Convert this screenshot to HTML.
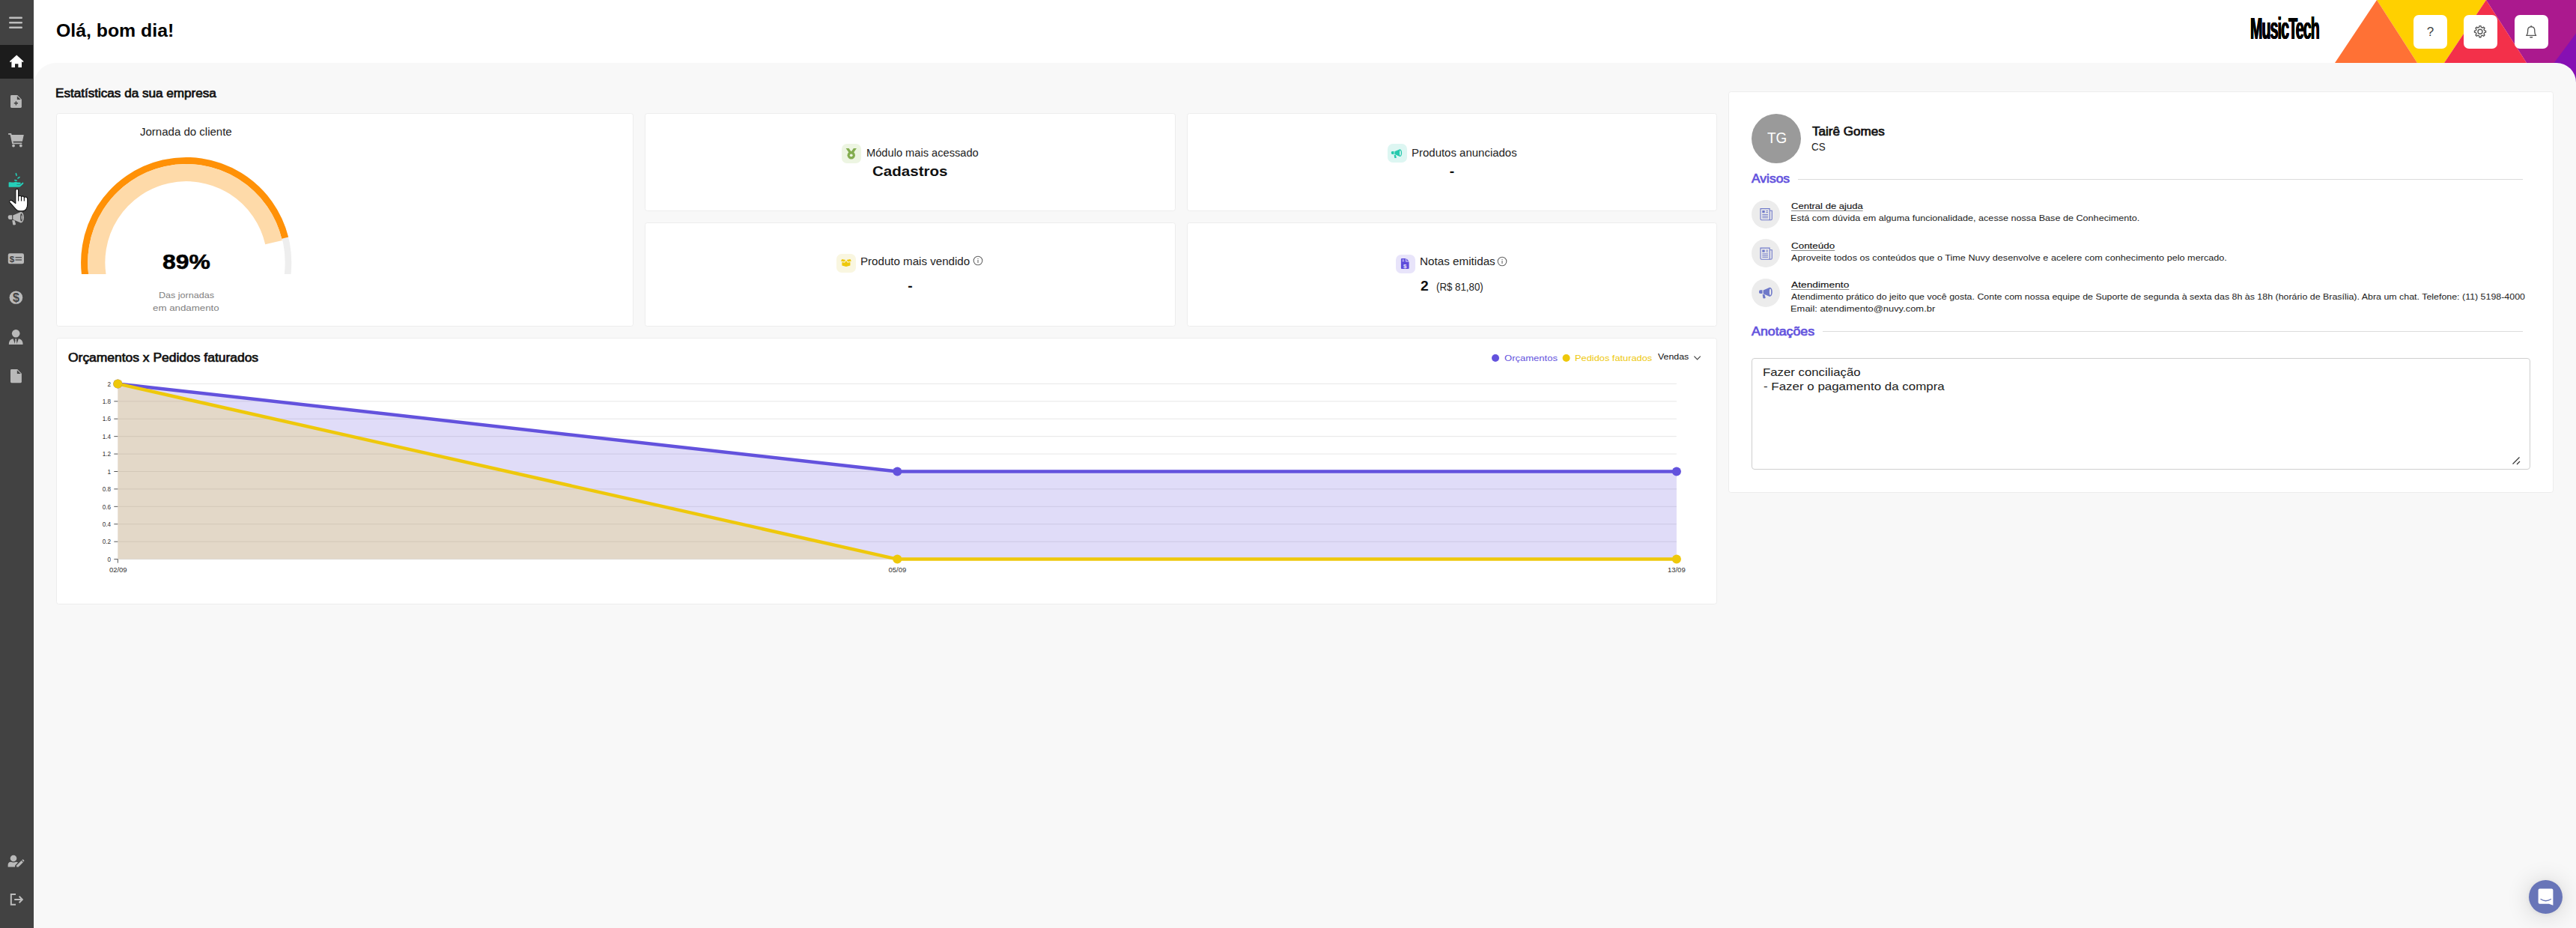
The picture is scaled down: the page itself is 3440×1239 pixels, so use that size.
<!DOCTYPE html>
<html lang="pt-BR">
<head>
<meta charset="utf-8">
<title>MusicTech - Início</title>
<style>
*{box-sizing:border-box;margin:0;padding:0}
html,body{width:3440px;height:1239px;overflow:hidden;background:#fff}
body{position:relative;font-family:"Liberation Sans",sans-serif;color:#111;-webkit-font-smoothing:antialiased}
.t{position:absolute;white-space:pre;display:block;transform-origin:0 50%}
.abs{position:absolute}
h1,h2,h3,p{font-weight:400;font-size:inherit}
/* sidebar */
.sidebar{position:absolute;left:0;top:0;width:45px;height:1239px;background:#424242;z-index:5}
.sidebar .active{position:absolute;left:0;top:60px;width:44px;height:45px;background:#1c1c1c}
.sidebar svg{position:absolute;left:0;top:0}
/* header */
.header{position:absolute;left:45px;top:0;width:3395px;height:84px;background:#fff}
.hdr-art{position:absolute;left:3110px;top:0;z-index:1}
.hbtn{position:absolute;top:20px;width:44.5px;height:44.5px;background:#fff;border-radius:7px;z-index:3}
/* content */
.content{position:absolute;left:45px;top:84px;width:3395px;height:1155px;background:#f8f8f8;border-radius:30px 26px 0 0;z-index:2}
.card{position:absolute;background:#fff;border:1px solid #ededed;border-radius:3.5px}
.shift{position:absolute;left:0;top:0}
.ico{position:absolute;width:25.5px;height:25.5px;border-radius:7px}
.ico svg{position:absolute;left:0;top:0}
.hr{position:absolute;height:1px;background:#dcdcdc}
.circ{position:absolute;width:38px;height:38px;border-radius:50%;background:#ececec}
.notes{position:absolute;background:#fff;border:1px solid #cfcfcf;border-radius:4px}
.chat{position:absolute;z-index:8;left:3376.500px;top:1175.200px;width:45px;height:45px;border-radius:50%;background:#6875b8;box-shadow:0 1px 6px rgba(0,0,0,.06),0 2px 32px rgba(0,0,0,.16)}
</style>
</head>
<body>

<!-- ============ HEADER ============ -->
<header class="header">
  <h1 class="t" style="left:29.56px;top:30.00px;font-size:23px;line-height:23px;font-weight:700;transform:scaleX(1.0791);color:#000;">Olá, bom dia!</h1>
</header>
<div class="abs" style="left:3004.8px;top:17px;width:92px;height:44px;z-index:3;overflow:visible">
  <span class="t" style="left:0;top:0;font-size:40.3px;line-height:44px;font-weight:700;color:#000;letter-spacing:-1.8px;transform:scaleX(.486);transform-origin:0 0;text-shadow:.6px 0 #000,-.6px 0 #000,.3px 0 #000,-.3px 0 #000">MusicTech</span>
</div>
<svg class="hdr-art" width="330" height="124" viewBox="3110 0 330 124">
  <polygon points="3320,0 3440,0 3440,124 3374,124 3374,84" fill="#ab198e"/>
  <polygon points="3440,44.6 3440,124 3381,124" fill="#8610b3"/>
  <polygon points="3174,0 3320,0 3264,84 3228,84" fill="#ffd000"/>
  <polygon points="3320,0 3264,84 3374,84" fill="#f3304a"/>
  <polygon points="3174,0 3118,84 3228,84" fill="#ff7135"/>
</svg>
<div class="hbtn" style="left:3223.3px"><span class="t" style="left:17.45px;top:14.00px;font-size:17px;line-height:17px;color:#444;">?</span></div>
<div class="hbtn" style="left:3290.2px">
  <svg class="abs" style="left:0;top:0" width="44.5" height="44.5" viewBox="3290.2 20 44.5 44.5" fill="none" stroke="#555" stroke-width="1.35" stroke-linejoin="round" stroke-linecap="round">
    <circle cx="3312.2" cy="42.2" r="3"/>
    <path d="M3310.82 36.46 L3311.19 34.67 L3313.21 34.67 L3313.58 36.46 L3315.28 37.17 L3316.81 36.16 L3318.24 37.59 L3317.23 39.12 L3317.94 40.82 L3319.73 41.19 L3319.73 43.21 L3317.94 43.58 L3317.23 45.28 L3318.24 46.81 L3316.81 48.24 L3315.28 47.23 L3313.58 47.94 L3313.21 49.73 L3311.19 49.73 L3310.82 47.94 L3309.12 47.23 L3307.59 48.24 L3306.16 46.81 L3307.17 45.28 L3306.46 43.58 L3304.67 43.21 L3304.67 41.19 L3306.46 40.82 L3307.17 39.12 L3306.16 37.59 L3307.59 36.16 L3309.12 37.17 Z"/>
  </svg>
</div>
<div class="hbtn" style="left:3358.2px">
  <svg class="abs" style="left:0;top:0" width="44.5" height="44.5" viewBox="3358.2 20 44.5 44.5" fill="none" stroke="#555" stroke-width="1.35" stroke-linejoin="round" stroke-linecap="round">
    <path d="M3374 47.4 H3386.8 Q3385 45.6 3385 42 V40.4 Q3385 36 3380.4 35.6 Q3375.800 36 3375.8 40.4 V42 Q3375.8 45.6 3374 47.4 Z"/>
    <path d="M3379 49.7 H3381.800"/>
    <path d="M3380.4 35.6 V34.6"/>
  </svg>
</div>

<!-- ============ SIDEBAR ============ -->
<aside class="sidebar">
  <div class="active"></div>
  <svg width="45" height="1239" viewBox="0 0 45 1239">
    <g fill="#bdbdbd">
      <!-- bars -->
      <rect x="12" y="22.5" width="18" height="2.6" rx="1.3"/>
      <rect x="12" y="28.9" width="18" height="2.6" rx="1.3"/>
      <rect x="12" y="35.5" width="18" height="2.6" rx="1.3"/>
    </g>
    <!-- home -->
    <g fill="#fff">
      <path d="M22.2 73.6 L31.6 81.900 L30.4 83.300 L29 82.100 V90 H24.4 V85.2 H20 V90 H15.4 V82.100 L14 83.300 L12.8 81.900 Z"/>
    </g>
    <g fill="#b9b9b9">
      <!-- file plus -->
      <path d="M15.4 127 H23.2 L28.9 132.7 V142.6 Q28.9 144 27.5 144 H15.4 Q14 144 14 142.6 V128.4 Q14 127 15.4 127 Z"/>
      <path d="M22.8 128.2 V133.100 H27.7 Z" fill="#424242"/>
      <path d="M20.700 135.200 H22.1 V137.100 H24 V138.500 H22.1 V140.400 H20.7 V138.500 H18.800 V137.100 H20.7 Z" fill="#424242"/>
      <!-- cart -->
      <path d="M11.1 178 H15.100 L15.600 180.100 H31.8 L29.900 188.700 H17.500 L17.900 190.500 H29.300 V192.300 H16.3 L13.600 179.8 H11.1 Z"/>
      <circle cx="18" cy="194.600" r="1.9"/><circle cx="27.800" cy="194.600" r="1.9"/>
      <!-- bullhorn -->
      <g transform="translate(3.55 272.20) scale(1.479)">
        <path d="M6.300 10.100 H8.500 V14 H6.300 Q4.900 14 4.900 12.600 V11.500 Q4.900 10.100 6.300 10.100 Z"/>
        <path d="M9.300 10.300 L16.300 7.300 Q19.100 7.600 19.100 12.200 Q19.100 16.800 16.300 17.100 L9.300 14.100 Z"/>
        <ellipse cx="16.900" cy="12.200" rx="1" ry="3.600" fill="#424242"/>
        <ellipse cx="17.100" cy="12.200" rx=".45" ry="2.100"/>
        <path d="M8.600 14.700 L10.800 14.900 L11.800 18.200 Q11.900 18.900 11.200 19 L10 19.100 Q9.400 19.100 9.200 18.500 Z"/>
      </g>
      <!-- money check -->
      <rect x="10.800" y="338.300" width="21.200" height="14" rx="2.300"/>
      <!-- dollar circle -->
      <circle cx="21.400" cy="397.300" r="8.800"/>
      <!-- user tie -->
      <circle cx="21.200" cy="445.200" r="5.300"/>
      <path d="M11.800 460 Q11.800 453 17.600 452.300 L20.200 459.900 Z"/>
      <path d="M30.600 460 Q30.600 453 24.800 452.300 L22.200 459.900 Z"/>
      <path d="M20 452.500 H22.400 L21.900 454.200 L22.900 459.900 H19.500 L20.500 454.200 Z"/>
      <!-- file -->
      <path d="M15.400 493 H23.2 L28.900 498.700 V509.800 Q28.900 511.200 27.500 511.200 H15.400 Q14 511.200 14 509.800 V494.400 Q14 493 15.400 493 Z"/>
      <path d="M22.8 494.2 V499.100 H27.7 Z" fill="#424242"/>
      <!-- user edit -->
      <circle cx="18" cy="1146" r="4.300"/>
      <path d="M10.600 1157.500 V1155 Q10.600 1151 14.500 1150.800 Q18 1152.300 21.500 1150.800 Q23 1150.900 24 1151.600 L20.300 1155.300 L20 1157.500 Z"/>
      <path d="M21.900 1157.600 L22.300 1155.300 L28.600 1149 L30.900 1151.300 L24.600 1157.600 Z"/>
      <path d="M29.300 1148.300 L30 1147.600 Q30.500 1147.200 31 1147.600 L32.200 1148.800 Q32.600 1149.300 32.200 1149.800 L31.500 1150.500 Z"/>
    </g>
    <!-- logout -->
    <g fill="none" stroke="#bdbdbd" stroke-width="2" stroke-linecap="butt" stroke-linejoin="miter">
      <path d="M21 1194 H14.800 V1207.800 H21"/>
      <path d="M19.200 1201 H29.500"/>
      <path d="M25.600 1196.800 L29.800 1201 L25.600 1205.200"/>
    </g>
    <!-- money check details -->
    <g stroke="#424242" stroke-width="1.200">
      <path d="M20.500 343.700 H29"/><path d="M20.500 347 H29"/>
    </g>
    <!-- hand holding water (teal, hovered) -->
    <g fill="#24cfb9">
      <rect x="11.600" y="243.300" width="3.400" height="6.400" rx=".5"/>
      <path d="M14.800 243.500 H18.600 Q21 242.200 23.400 243.500 H26.300 Q27.700 243.500 27.700 244.700 Q27.700 245.900 26.300 245.900 H22.300 V246.500 H27 L29.700 243.900 Q30.600 243.200 31.200 243.900 Q31.700 244.700 31 245.500 L26.900 249.300 Q26.500 249.700 25.800 249.700 H14.800 Z"/>
      <ellipse cx="21.700" cy="233" rx=".9" ry="2.200" transform="rotate(-15 21.700 233)"/>
      <ellipse cx="25" cy="237.300" rx=".9" ry="2.200" transform="rotate(55 25 237.300)"/>
      <ellipse cx="21" cy="240.800" rx="2.100" ry=".9" transform="rotate(10 21 240.800)"/>
    </g>
    <text x="16" y="349.600" font-size="11.500" font-weight="700" fill="#424242" text-anchor="middle" font-family="Liberation Sans, sans-serif">$</text>
    <text x="21.400" y="402.900" font-size="16" font-weight="700" fill="#424242" text-anchor="middle" font-family="Liberation Sans, sans-serif">$</text>
  </svg>
</aside>
<!-- mouse cursor -->
<svg class="abs" style="left:10px;top:250px;z-index:9" width="30" height="34" viewBox="10 250 30 34">
  <path d="M20.8 254.6 Q20.8 252.3 22.7 252.3 Q24.6 252.3 24.6 254.6 V262.6 Q24.9 261.2 26.600 261.2 Q28.4 261.3 28.5 263 Q28.9 261.8 30.5 261.9 Q32.2 262 32.3 263.8 Q32.8 262.9 34.3 263 Q36.7 263.2 36.7 265.8 V272.5 Q36.7 276.5 35 279 Q33.8 281.8 30 281.800 H26.5 Q23.3 281.8 21.2 279.3 L13.2 270.3 Q12 268.8 13.2 267.8 Q14.6 266.9 16.2 268 L20.800 271.6 Z" fill="#fff" stroke="#111" stroke-width="1.100" stroke-linejoin="round"/>
  <path d="M24.600 262.600 V268.500 M28.500 263 V268.500 M32.300 263.800 V268.500" stroke="#111" stroke-width="1.100" fill="none"/>
</svg>

<!-- ============ CONTENT ============ -->
<main class="content">
  <h2 class="t" style="left:29.16px;top:33.00px;font-size:16px;line-height:16px;transform:scaleX(1.0682);color:#111;-webkit-text-stroke:.7px #111;">Estatísticas da sua empresa</h2>

  <!-- card 1: jornada -->
  <section class="card" style="left:30px;top:67px;width:771px;height:285px">
    <span class="t" style="left:111.37px;top:17.00px;font-size:14px;line-height:14px;transform:scaleX(1.0725);color:#222;">Jornada do cliente</span>
    <svg class="abs" style="left:24px;top:48px;overflow:hidden" width="300" height="165.900" viewBox="100 200 300 165.900">
      <g fill="none">
        <circle cx="248.700" cy="350.600" r="136.300" stroke="#eeeeee" stroke-width="8.600"/>
        <path d="M115.67 378.88 A136.00 136.00 0 0 1 380.66 317.70" stroke="#ff9107" stroke-width="9.200"/>
        <path d="M131.42 375.53 A119.90 119.90 0 0 1 365.53 323.63" stroke="#fedaa9" stroke-width="23.200"/>
      </g>
    </svg>
    <span class="t" style="left:140.70px;top:184.00px;font-size:28px;line-height:28px;font-weight:700;transform:scaleX(1.1376);color:#000;-webkit-text-stroke:.5px #000;">89%</span>
    <span class="t" style="left:135.90px;top:237.00px;font-size:11px;line-height:11px;transform:scaleX(1.1402);color:#808080;">Das jornadas</span>
    <span class="t" style="left:128.35px;top:254.00px;font-size:11px;line-height:11px;transform:scaleX(1.2076);color:#808080;">em andamento</span>
  </section>

  <!-- card 2: modulo -->
  <section class="card" style="left:816px;top:67px;width:709px;height:131px">
    <div class="ico" style="left:262px;top:40px;background:#edf5e2">
      <svg width="25.5" height="25.5" viewBox="0 0 25.5 25.5"><g fill="#84ad50">
        <path d="M5.6 5.900 H9.6 L12.75 10.600 L15.9 5.900 H19.9 L15.600 12.200 H9.900 Z"/>
        <circle cx="12.75" cy="15.300" r="5.200"/><circle cx="12.75" cy="15.300" r="1.900" fill="#edf5e2"/>
      </g></svg>
    </div>
    <span class="t" style="left:295.22px;top:45.00px;font-size:14px;line-height:14px;transform:scaleX(1.0459);color:#222;">Módulo mais acessado</span>
    <span class="t" style="left:303.40px;top:67.00px;font-size:19.2px;line-height:19.2px;font-weight:700;transform:scaleX(1.0705);color:#111;">Cadastros</span>
  </section>

  <!-- card 3: produtos anunciados -->
  <section class="card" style="left:1540px;top:67px;width:708px;height:131px">
    <div class="ico" style="left:267px;top:39.800px;background:#ddf6f2">
      <svg width="25.5" height="25.5" viewBox="0 0 25.5 25.5"><g fill="#27c9ad">
        <path d="M6.300 10.100 H8.500 V14 H6.300 Q4.900 14 4.900 12.600 V11.500 Q4.900 10.100 6.300 10.100 Z"/>
        <path d="M9.400 10.300 L16.300 7.300 Q19.100 7.600 19.100 12.200 Q19.100 16.800 16.300 17.100 L9.400 14.100 Z"/>
        <ellipse cx="16.900" cy="12.200" rx=".9" ry="3.500" fill="#ddf6f2"/>
        <path d="M8.600 14.700 L10.800 14.900 L11.800 18.200 Q11.900 18.900 11.200 19 L10 19.100 Q9.400 19.100 9.200 18.500 Z"/>
      </g></svg>
    </div>
    <span class="t" style="left:299.10px;top:45.00px;font-size:14px;line-height:14px;transform:scaleX(1.0695);color:#222;">Produtos anunciados</span>
    <span class="t" style="left:349.86px;top:67.00px;font-size:19.2px;line-height:19.2px;font-weight:700;color:#111;">-</span>
  </section>

  <!-- card 4: produto mais vendido -->
  <section class="card" style="left:816px;top:213px;width:709px;height:139px">
    <div class="ico" style="left:255px;top:40.800px;background:#f9f6e0">
      <svg width="25.5" height="25.5" viewBox="0 0 25.5 25.5"><g fill="#eec80b">
        <path d="M6 9.700 L7.300 7.100 L12.100 7.900 L10.600 10.600 Z"/>
        <path d="M19.800 9.700 L18.500 7.100 L13.700 7.900 L15.200 10.600 Z"/>
        <path d="M7.400 10.900 L10.900 11.700 L12.900 8.900 L14.900 11.700 L18.400 10.900 V15.400 L12.900 16.900 L7.400 15.400 Z"/>
      </g></svg>
    </div>
    <span class="t" style="left:287.49px;top:44.00px;font-size:14px;line-height:14px;transform:scaleX(1.0789);color:#222;">Produto mais vendido</span>
    <svg class="abs" style="left:437.200px;top:43.400px" width="14" height="14" viewBox="0 0 14 14" fill="none" stroke="#666" stroke-width="1.100"><circle cx="7" cy="7" r="5.800"/><path d="M7 6.100 V10" stroke-width="1.100"/><circle cx="7" cy="4.300" r=".4" fill="#666" stroke-width=".5"/></svg>
    <span class="t" style="left:350.26px;top:74.00px;font-size:19.2px;line-height:19.2px;font-weight:700;color:#111;">-</span>
  </section>

  <!-- card 5: notas emitidas -->
  <section class="card" style="left:1540px;top:213px;width:708px;height:139px">
    <div class="ico" style="left:278px;top:41.800px;background:#e8e4fa">
      <svg width="25.5" height="25.5" viewBox="0 0 25.5 25.5"><g fill="#5f4ddb">
        <path d="M8 5.100 H13.200 V9.400 H17.600 V18 Q17.600 19.100 16.500 19.100 H8 Q6.900 19.100 6.900 18 V6.200 Q6.900 5.100 8 5.100 Z"/>
        <path d="M14.100 5.300 L17.400 8.600 H14.100 Z"/>
      </g>
      <text x="12.200" y="17.600" font-size="8" font-weight="700" fill="#e8e4fa" text-anchor="middle" font-family="Liberation Sans, sans-serif">$</text>
      <path d="M8.500 7 H11.200 M8.500 8.700 H11.200" stroke="#e8e4fa" stroke-width=".8"/>
      </svg>
    </div>
    <span class="t" style="left:309.78px;top:44.00px;font-size:14px;line-height:14px;transform:scaleX(1.0879);color:#222;">Notas emitidas</span>
    <svg class="abs" style="left:413.200px;top:44.200px" width="14" height="14" viewBox="0 0 14 14" fill="none" stroke="#666" stroke-width="1.100"><circle cx="7" cy="7" r="5.800"/><path d="M7 6.100 V10" stroke-width="1.100"/><circle cx="7" cy="4.300" r=".4" fill="#666" stroke-width=".5"/></svg>
    <span class="t" style="left:310.88px;top:74.00px;font-size:19.2px;line-height:19.2px;font-weight:700;color:#111;">2</span>
    <span class="t" style="left:332.09px;top:78.00px;font-size:14px;line-height:14px;transform:scaleX(0.9485);color:#222;">(R$ 81,80)</span>
  </section>

  <!-- chart card -->
  <section class="card" style="left:30px;top:367px;width:2218px;height:356px">
  <div class="shift" style="top:1px">
    <span class="t" style="left:14.58px;top:17.00px;font-size:16px;line-height:16px;transform:scaleX(1.0904);color:#111;-webkit-text-stroke:.7px #111;">Orçamentos x Pedidos faturados</span>
    <svg class="abs" style="left:-1px;top:-1px" width="2218" height="354" viewBox="75 452 2218 354">
      <g stroke="#e7e7e7" stroke-width="1">
      <path d="M157.3 512.40 H2238.9"/>
      <path d="M157.3 535.82 H2238.9"/>
      <path d="M157.3 559.24 H2238.9"/>
      <path d="M157.3 582.66 H2238.9"/>
      <path d="M157.3 606.08 H2238.9"/>
      <path d="M157.3 629.50 H2238.9"/>
      <path d="M157.3 652.92 H2238.9"/>
      <path d="M157.3 676.34 H2238.9"/>
      <path d="M157.3 699.76 H2238.9"/>
      <path d="M157.3 723.18 H2238.9"/>
      <path d="M157.3 746.60 H2238.9"/>
      </g>
      <g stroke="#555" stroke-width="1">
      <path d="M152.3 512.40 H157.3"/>
      <path d="M152.3 535.82 H157.3"/>
      <path d="M152.3 559.24 H157.3"/>
      <path d="M152.3 582.66 H157.3"/>
      <path d="M152.3 606.08 H157.3"/>
      <path d="M152.3 629.50 H157.3"/>
      <path d="M152.3 652.92 H157.3"/>
      <path d="M152.3 676.34 H157.3"/>
      <path d="M152.3 699.76 H157.3"/>
      <path d="M152.3 723.18 H157.3"/>
      <path d="M152.3 746.60 H157.3"/>
      <path d="M157.3 746.60 V751.60"/>
      </g>
      <polygon points="157.3,512.40 1198.3,629.50 2238.9,629.50 2238.9,746.60 157.3,746.60" fill="#6352dd" fill-opacity=".2"/>
      <polygon points="157.3,512.40 1198.3,746.60 2238.9,746.60 2238.9,746.60 157.3,746.60" fill="#eec80b" fill-opacity=".2"/>
      <polyline points="157.3,512.40 1198.3,629.50 2238.9,629.50" fill="none" stroke="#6352dd" stroke-width="4.5" stroke-linejoin="round"/>
      <polyline points="157.3,512.40 1198.3,746.60 2238.9,746.60" fill="none" stroke="#eec80b" stroke-width="4.5" stroke-linejoin="round"/>
      <circle cx="157.3" cy="512.40" r="6" fill="#6352dd"/>
      <circle cx="1198.3" cy="629.50" r="6" fill="#6352dd"/>
      <circle cx="2238.9" cy="629.50" r="6" fill="#6352dd"/>
      <circle cx="157.3" cy="512.40" r="6" fill="#eec80b"/>
      <circle cx="1198.3" cy="746.60" r="6" fill="#eec80b"/>
      <circle cx="2238.9" cy="746.60" r="6" fill="#eec80b"/>
      <circle cx="1997" cy="478" r="5" fill="#6352dd"/>
      <circle cx="2091.6" cy="478" r="5" fill="#eec80b"/>
      <path d="M2262.4 475.6 L2266.6 479.8 L2270.8 475.600" fill="none" stroke="#444" stroke-width="1.200"/>
    </svg>
    <span class="t" style="left:1932.72px;top:20.00px;font-size:11.2px;line-height:11.2px;transform:scaleX(1.1646);color:#6352dd;">Orçamentos</span>
    <span class="t" style="left:2027.30px;top:20.00px;font-size:11.2px;line-height:11.2px;transform:scaleX(1.1452);color:#eec80b;">Pedidos faturados</span>
    <span class="t" style="left:2138.00px;top:17.00px;font-size:11.7px;line-height:11.7px;transform:scaleX(1.0566);color:#111;">Vendas</span>
    <span class="t" style="left:32.00px;top:55.00px;font-size:9.5px;line-height:9.5px;color:#333;text-align:right;width:40px;transform:scaleX(.86);transform-origin:100% 50%;">2</span>
    <span class="t" style="left:32.00px;top:78.00px;font-size:9.5px;line-height:9.5px;color:#333;text-align:right;width:40px;transform:scaleX(.86);transform-origin:100% 50%;">1.8</span>
    <span class="t" style="left:32.00px;top:101.00px;font-size:9.5px;line-height:9.5px;color:#333;text-align:right;width:40px;transform:scaleX(.86);transform-origin:100% 50%;">1.6</span>
    <span class="t" style="left:32.00px;top:125.00px;font-size:9.5px;line-height:9.5px;color:#333;text-align:right;width:40px;transform:scaleX(.86);transform-origin:100% 50%;">1.4</span>
    <span class="t" style="left:32.00px;top:148.00px;font-size:9.5px;line-height:9.5px;color:#333;text-align:right;width:40px;transform:scaleX(.86);transform-origin:100% 50%;">1.2</span>
    <span class="t" style="left:32.00px;top:172.00px;font-size:9.5px;line-height:9.5px;color:#333;text-align:right;width:40px;transform:scaleX(.86);transform-origin:100% 50%;">1</span>
    <span class="t" style="left:32.00px;top:195.00px;font-size:9.5px;line-height:9.5px;color:#333;text-align:right;width:40px;transform:scaleX(.86);transform-origin:100% 50%;">0.8</span>
    <span class="t" style="left:32.00px;top:219.00px;font-size:9.5px;line-height:9.5px;color:#333;text-align:right;width:40px;transform:scaleX(.86);transform-origin:100% 50%;">0.6</span>
    <span class="t" style="left:32.00px;top:242.00px;font-size:9.5px;line-height:9.5px;color:#333;text-align:right;width:40px;transform:scaleX(.86);transform-origin:100% 50%;">0.4</span>
    <span class="t" style="left:32.00px;top:265.00px;font-size:9.5px;line-height:9.5px;color:#333;text-align:right;width:40px;transform:scaleX(.86);transform-origin:100% 50%;">0.2</span>
    <span class="t" style="left:32.00px;top:289.00px;font-size:9.5px;line-height:9.5px;color:#333;text-align:right;width:40px;transform:scaleX(.86);transform-origin:100% 50%;">0</span>
    <span class="t" style="left:69.89px;top:303.00px;font-size:9.5px;line-height:9.5px;color:#333;">02/09</span>
    <span class="t" style="left:1110.49px;top:303.00px;font-size:9.5px;line-height:9.5px;color:#333;">05/09</span>
    <span class="t" style="left:2150.90px;top:303.00px;font-size:9.5px;line-height:9.5px;color:#333;">13/09</span>
  </div>
  </section>

  <!-- right panel -->
  <section class="card" style="left:2263px;top:38px;width:1102px;height:536px">
  <div class="shift" style="left:-1px">
    <div class="abs" style="left:31px;top:29.200px;width:66px;height:66px;border-radius:50%;background:#9a9a9a"></div>
    <span class="t" style="left:51.65px;top:51.00px;font-size:20.5px;line-height:20.5px;transform:scaleX(0.9239);color:#fff;">TG</span>
    <span class="t" style="left:111.73px;top:45.00px;font-size:16px;line-height:16px;transform:scaleX(1.0667);color:#111;-webkit-text-stroke:.7px #111;">Tairê Gomes</span>
    <span class="t" style="left:111.40px;top:66.00px;font-size:14px;line-height:14px;transform:scaleX(0.9589);color:#222;">CS</span>
    <h3 class="t" style="left:31.00px;top:108.00px;font-size:16px;line-height:16px;transform:scaleX(1.0911);color:#6352dd;-webkit-text-stroke:.7px #6352dd;">Avisos</h3>
    <div class="hr" style="left:92.700px;top:116px;width:968px"></div>

    <div class="circ" style="left:30.900px;top:143.900px"></div>
    <div class="circ" style="left:30.900px;top:196.400px"></div>
    <div class="circ" style="left:30.900px;top:248.500px"></div>
    <svg class="abs" style="left:0;top:0" width="110" height="300" viewBox="2308 123 110 300">
      <g id="news1" fill="none" stroke="#6f79c9" stroke-width="1.100">
        <path d="M2351 278.600 H2363.200 V292.300 Q2363.200 293.700 2364.700 293.700 H2352.400 Q2351 293.700 2351 292.300 Z"/>
        <path d="M2363.200 281.300 H2366.300 V292.200 Q2366.300 293.700 2364.700 293.700"/>
        <rect x="2353.300" y="281" width="3.400" height="3.200" fill="#6f79c9" stroke="none"/>
        <path d="M2358.300 281.600 H2361 M2358.300 283.600 H2361 M2353.300 286.400 H2361 M2353.300 288.600 H2361 M2353.300 290.800 H2361" stroke-width="1"/>
      </g>
      <use href="#news1" y="52.500"/>
      <g fill="#6f79c9" transform="translate(2342.90 374.57) scale(1.25)">
        <path d="M6.300 10.100 H8.500 V14 H6.300 Q4.900 14 4.900 12.600 V11.500 Q4.900 10.100 6.300 10.100 Z"/>
        <path d="M9.400 10.300 L16.300 7.300 Q19.100 7.600 19.100 12.200 Q19.100 16.800 16.300 17.100 L9.400 14.100 Z"/>
        <ellipse cx="16.900" cy="12.200" rx=".9" ry="3.500" fill="#ececec"/>
        <path d="M8.600 14.700 L10.800 14.900 L11.800 18.200 Q11.900 18.900 11.200 19 L10 19.100 Q9.400 19.100 9.200 18.500 Z"/>
      </g>
    </svg>
    <span class="t" style="left:83.61px;top:147.00px;font-size:11px;line-height:11px;transform:scaleX(1.1850);color:#111;text-decoration:underline;text-decoration-thickness:1px;text-underline-offset:1.5px;text-decoration-color:#8a8a8a;-webkit-text-stroke:.12px #111;">Central de ajuda</span>
    <p class="t" style="left:83.20px;top:163.00px;font-size:11px;line-height:11px;transform:scaleX(1.1468);color:#222;">Está com dúvida em alguma funcionalidade, acesse nossa Base de Conhecimento.</p>
    <span class="t" style="left:83.59px;top:200.00px;font-size:11px;line-height:11px;transform:scaleX(1.2203);color:#111;text-decoration:underline;text-decoration-thickness:1px;text-underline-offset:1.5px;text-decoration-color:#8a8a8a;-webkit-text-stroke:.12px #111;">Conteúdo</span>
    <p class="t" style="left:84.20px;top:216.00px;font-size:11px;line-height:11px;transform:scaleX(1.1507);color:#222;">Aproveite todos os conteúdos que o Time Nuvy desenvolve e acelere com conhecimento pelo mercado.</p>
    <span class="t" style="left:84.20px;top:252.00px;font-size:11px;line-height:11px;transform:scaleX(1.2513);color:#111;text-decoration:underline;text-decoration-thickness:1px;text-underline-offset:1.5px;text-decoration-color:#8a8a8a;-webkit-text-stroke:.12px #111;">Atendimento</span>
    <p class="t" style="left:84.20px;top:268.00px;font-size:11px;line-height:11px;transform:scaleX(1.1283);color:#222;">Atendimento prático do jeito que você gosta. Conte com nossa equipe de Suporte de segunda à sexta das 8h às 18h (horário de Brasília). Abra um chat. Telefone: (11) 5198-4000</p>
    <p class="t" style="left:83.17px;top:284.00px;font-size:11px;line-height:11px;transform:scaleX(1.1752);color:#222;">Email: atendimento@nuvy.com.br</p>

    <h3 class="t" style="left:31.00px;top:312.00px;font-size:16px;line-height:16px;transform:scaleX(1.1128);color:#6352dd;-webkit-text-stroke:.7px #6352dd;">Anotações</h3>
    <div class="hr" style="left:126px;top:319.400px;width:934.700px"></div>
    <div class="notes" style="left:31px;top:355px;width:1039.500px;height:148.500px">
      <span class="t" style="left:14.30px;top:11.00px;font-size:14.5px;line-height:14.5px;transform:scaleX(1.1573);color:#222;">Fazer conciliação</span>
      <span class="t" style="left:14.87px;top:30.00px;font-size:14.5px;line-height:14.5px;transform:scaleX(1.1668);color:#222;">- Fazer o pagamento da compra</span>
      <svg class="abs" style="left:1013px;top:129.300px" width="14" height="14" viewBox="0 0 14 14" stroke="#333" stroke-width="1.200" fill="none"><path d="M2.500 11.500 L11.500 2.500 M8 12 L12 8"/></svg>
    </div>
  </div>
  </section>
</main>

<!-- chat bubble -->
<div class="chat">
  <svg class="abs" style="left:0;top:0" width="45" height="45" viewBox="0 0 45 45">
    <path d="M14.600 11.500 H30.400 Q32.400 11.500 32.400 13.500 V33.800 L27 31.800 H14.600 Q12.600 31.800 12.600 29.800 V13.500 Q12.600 11.500 14.600 11.500 Z" fill="#fff"/>
    <path d="M16 25.500 Q22.500 30 29.500 25.500" fill="none" stroke="#6875b8" stroke-width="1.300" stroke-linecap="round"/>
  </svg>
</div>
</body>
</html>
